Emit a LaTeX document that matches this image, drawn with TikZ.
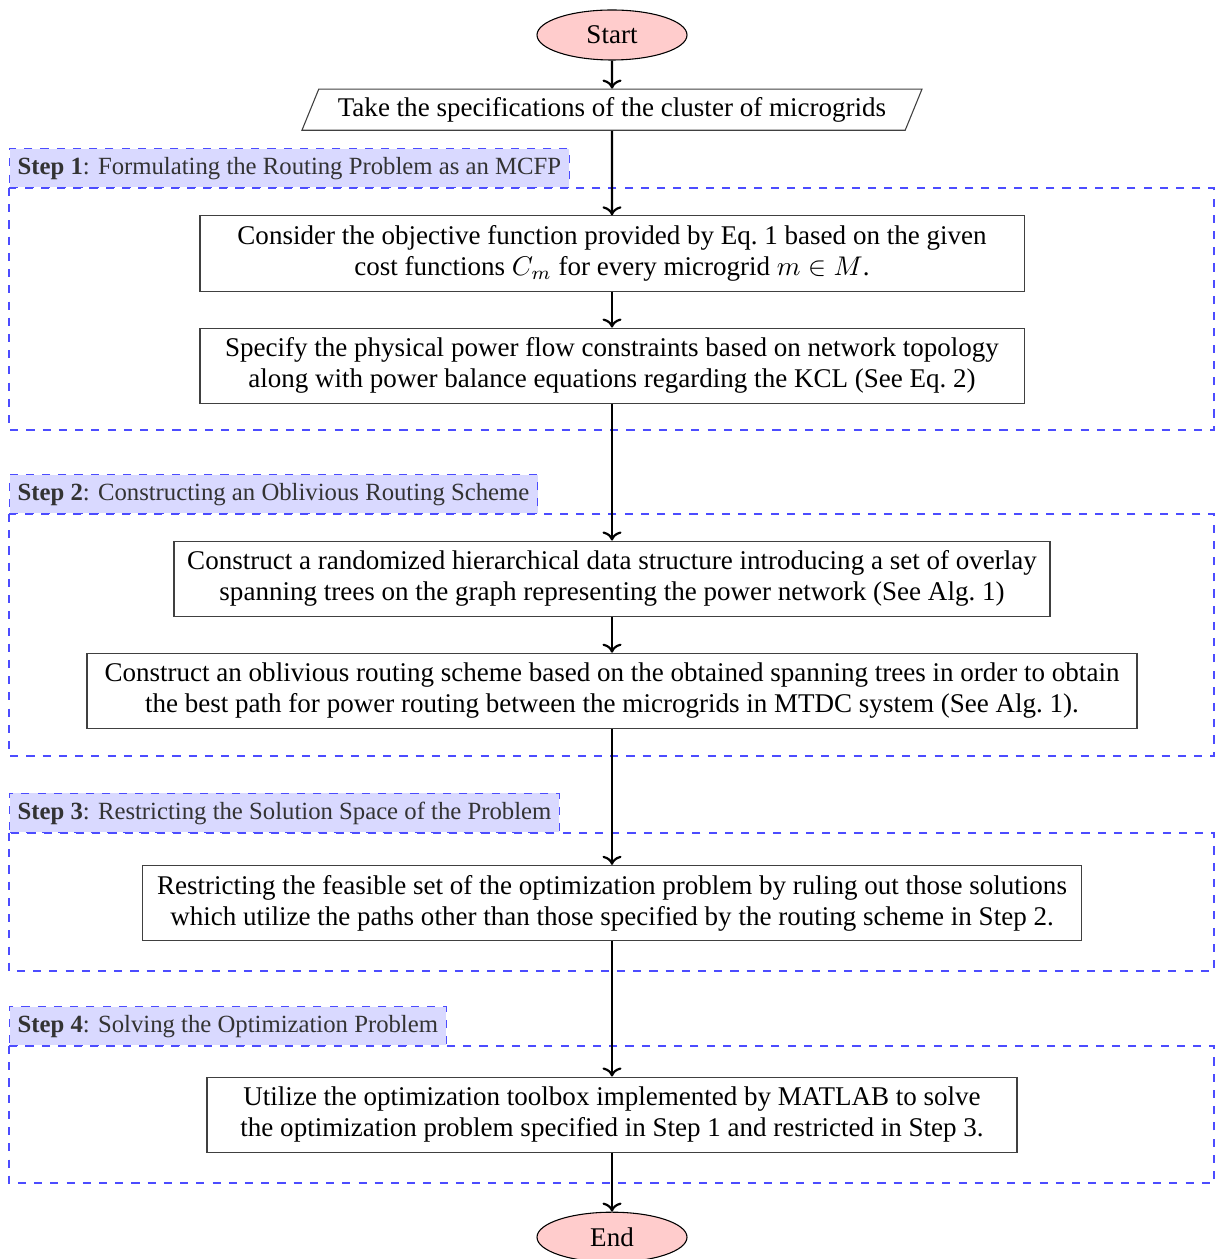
\documentclass[tikz,border=0pt]{standalone}
\usepackage{amsmath}
\usepackage{amssymb}
\usepackage{fontspec}
\setmainfont{Liberation Serif}
\usetikzlibrary{arrows.meta,shapes,positioning}

\begin{document}
\begin{tikzpicture}[
  x=0.37pt, y=-0.37pt,                       % one unit = one pixel of the sketch
  font=\fontsize{10}{11.4}\selectfont,
  node distance = 13.3pt,
  terminal/.style = {ellipse,
                     draw,
                     fill=red!20,
                     minimum width=55.5pt,
                     minimum height=18.5pt,
                     inner sep=0pt},
  io/.style       = {trapezium,
                     trapezium left angle=61,
                     trapezium right angle=119,
                     trapezium stretches body,
                     draw=black!75,
                     minimum width=229.4pt,
                     minimum height=15.2pt,
                     inner sep=1pt},
  process/.style  = {rectangle,
                     draw=black!75,
                     align=center,
                     minimum height=27.8pt,
                     inner sep=2pt},
  steplabel/.style = {rectangle,
                     draw=blue!70,
                     dashed,
                     fill=blue!15,
                     text=black!80,
                     font=\fontsize{9.15}{11}\selectfont,
                     minimum height=13.7pt,
                     inner sep=3pt,
                     anchor=south west},
  frame/.style    = {draw=blue!70, dashed},
  arrow/.style    = {->, thick}
]
\useasboundingbox (0,0) rectangle (1215,1259);

% step frames
\draw[frame] (9,188)  rectangle (1214,430);
\draw[frame] (9,514)  rectangle (1214,756);
\draw[frame] (9,833)  rectangle (1214,971);
\draw[frame] (9,1046) rectangle (1214,1183);

\node[steplabel] (s1) at (9,188)  {\textbf{Step 1}: Formulating the Routing Problem as an MCFP};
\node[steplabel] (s2) at (9,514)  {\textbf{Step 2}: Constructing an Oblivious Routing Scheme};
\node[steplabel] (s3) at (9,833)  {\textbf{Step 3}: Restricting the Solution Space of the Problem};
\node[steplabel] (s4) at (9,1046) {\textbf{Step 4}: Solving the Optimization Problem};

% main chain
\node[terminal] (start) at (612,35) {Start};
\node[io, below=10.4pt of start] (spec) {Take the specifications of the cluster of microgrids};

\node[process, minimum width=304.9pt, below=31.3pt of spec] (obj)
  {Consider the objective function provided by Eq.~1 based on the given\\
   cost functions $C_m$ for every microgrid $m \in M$.};
\node[process, minimum width=304.9pt, below=of obj] (kcl)
  {Specify the physical power flow constraints based on network topology\\
   along with power balance equations regarding the KCL (See Eq.~2)};

\node[process, minimum width=324.1pt, below=50.6pt of kcl] (tree)
  {Construct a randomized hierarchical data structure introducing a set of overlay\\
   spanning trees on the graph representing the power network (See Alg.~1)};
\node[process, minimum width=388.5pt, below=13.3pt of tree] (obl)
  {Construct an oblivious routing scheme based on the obtained spanning trees in order to obtain\\
   the best path for power routing between the microgrids in MTDC system (See Alg.~1).};

\node[process, minimum width=347.4pt, below=50.3pt of obl] (restr)
  {Restricting the feasible set of the optimization problem by ruling out those solutions\\
   which utilize the paths other than those specified by the routing scheme in Step~2.};

\node[process, minimum width=299.7pt, below=50.1pt of restr] (solve)
  {Utilize the optimization toolbox implemented by MATLAB to solve\\
   the optimization problem specified in Step~1 and restricted in Step~3.};

\node[terminal, below=21.8pt of solve] (end) {End};

\draw[arrow] (start) -- (spec);
\draw[arrow] (spec)  -- (obj);
\draw[arrow] (obj)   -- (kcl);
\draw[arrow] (kcl)   -- (tree);
\draw[arrow] (tree)  -- (obl);
\draw[arrow] (obl)   -- (restr);
\draw[arrow] (restr) -- (solve);
\draw[arrow] (solve) -- (end);

\end{tikzpicture}
\end{document}
